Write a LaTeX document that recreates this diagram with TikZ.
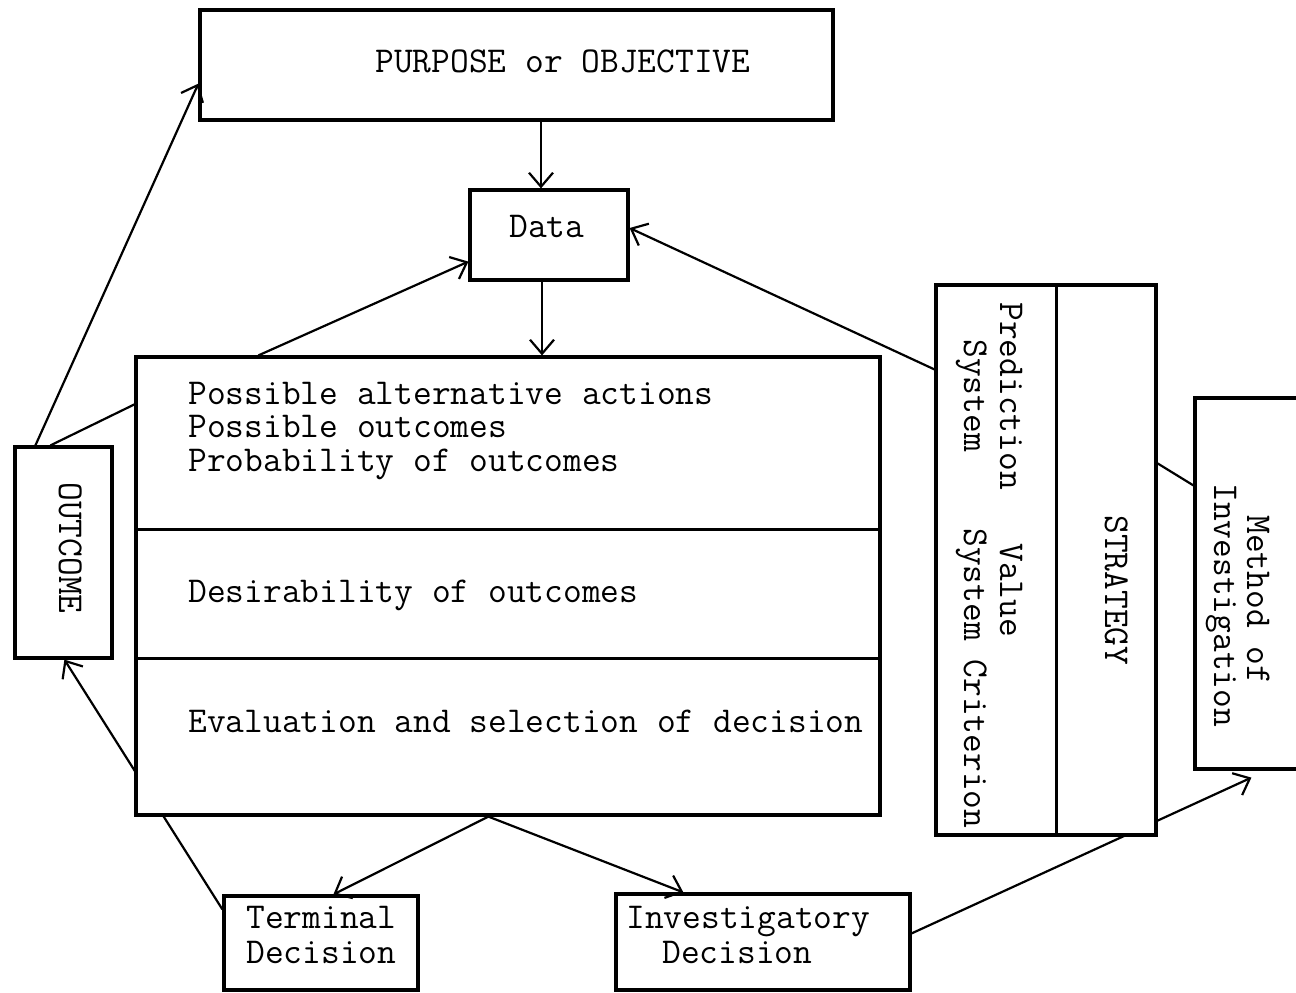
\documentclass[tikz,border=0pt]{standalone}
\usepackage{fontspec}
\usetikzlibrary{arrows.meta,calc,fit,backgrounds}
\begin{document}
\begin{tikzpicture}[x=0.5pt,y=-0.5pt,
  box/.style={draw, line width=1.6pt, fill=white, inner sep=0pt},
  tfont/.style={font=\ttfamily\fontsize{18.2}{16.6}\selectfont, inner sep=0pt, anchor=base west},
  txt/.style={tfont, text height=10.5pt, text depth=2.5pt},
  vtxt/.style={txt, rotate=-90},
  conn/.style={line width=1.1pt},
  arr/.style={conn, -{Straight Barb[length=7pt,width=12pt]}}]
\useasboundingbox (0,0) rectangle (1296,992);

% boxes
\node[box, fit={(200,10) (833,120)}] (purpose) {};
\node[box, fit={(470,190) (628,280)}] (data) {};
\node[box, fit={(136,357) (880,815)}] (main) {};
\node[box, fit={(15,447) (112,658)}] (outcome) {};
\node[box, fit={(936,285) (1156,835)}] (strategy) {};
\node[box, fit={(1195,398) (1330,769)}] (method) {};
\node[box, fit={(224,896) (418,990)}] (terminal) {};
\node[box, fit={(616,894) (910,990)}] (invest) {};

% dividers
\draw[line width=1.6pt] ($(main.north west)+(0,174)$) -- ($(main.north east)+(0,174)$);
\draw[line width=1.6pt] ($(main.north west)+(0,303)$) -- ($(main.north east)+(0,303)$);
\draw[line width=1.6pt] ($(strategy.north west)+(122,0)$) -- ($(strategy.south west)+(122,0)$);

% texts
\node[txt] (tpurpose) at (375,72) {PURPOSE or OBJECTIVE};
\node[txt] (tdata) at (509,237) {Data};
\node[tfont, align=left] (t1) at (188,471) {Possible alternative actions\\Possible outcomes\\Probability of outcomes};
\node[txt] (t4) at (188,602) {Desirability of outcomes};
\node[txt] (t5) at (188,732) {Evaluation and selection of decision};
\node[txt] (tterm1) at (246,928) {Terminal};
\node[txt] (tterm2) at (246,963) {Decision};
\node[txt] (tinv1) at (626,928) {Investigatory};
\node[txt] (tinv2) at (662,963) {Decision};
\node[vtxt] (tout) at (59,482) {OUTCOME};
\node[vtxt] (tpred) at (1000,302) {Prediction};
\node[vtxt] (tsys1) at (964,339) {System};
\node[vtxt] (tval) at (1000,543) {Value};
\node[vtxt] (tsys2) at (964,528) {System Criterion};
\node[vtxt] (tstrat) at (1105,515) {STRATEGY};
\node[vtxt] (tmeth) at (1247,515) {Method of};
\node[vtxt] (tinvg) at (1214,483) {Investigation};

% connectors
\coordinate (dn) at ($(data.north)+(-8,0)$);
\coordinate (ds) at ($(data.south)+(-7,0)$);
\draw[arr] (dn |- purpose.south) -- (dn);
\draw[arr] (ds) -- (ds |- main.north);
\draw[arr] ($(main.north west)+(124,0)$) -- ($(data.south west)+(0,-20)$);
\draw[arr] ($(strategy.north west)+(0,86)$) -- ($(data.east)+(0,-7)$);
\draw[arr] ($(outcome.north west)+(22,0)$) -- ($(purpose.south west)+(0,-38)$);
\draw[conn] ($(outcome.north west)+(37,0)$) -- ($(main.north west)+(0,49)$);
\draw[arr] ($(main.south west)+(354,0)$) -- ($(terminal.north west)+(111,0)$);
\draw[arr] ($(main.south west)+(354,0)$) -- ($(invest.north west)+(69,0)$);
\draw[conn] ($(strategy.north east)+(0,180)$) -- ($(method.north west)+(0,89)$);
\begin{scope}[on background layer]
\draw[arr] ($(terminal.north west)+(0,15)$) -- ($(outcome.south west)+(51,0)$);
\draw[arr] ($(invest.north east)+(0,41)$) -- ($(method.south west)+(58,7)$);
\end{scope}
\end{tikzpicture}
\end{document}
